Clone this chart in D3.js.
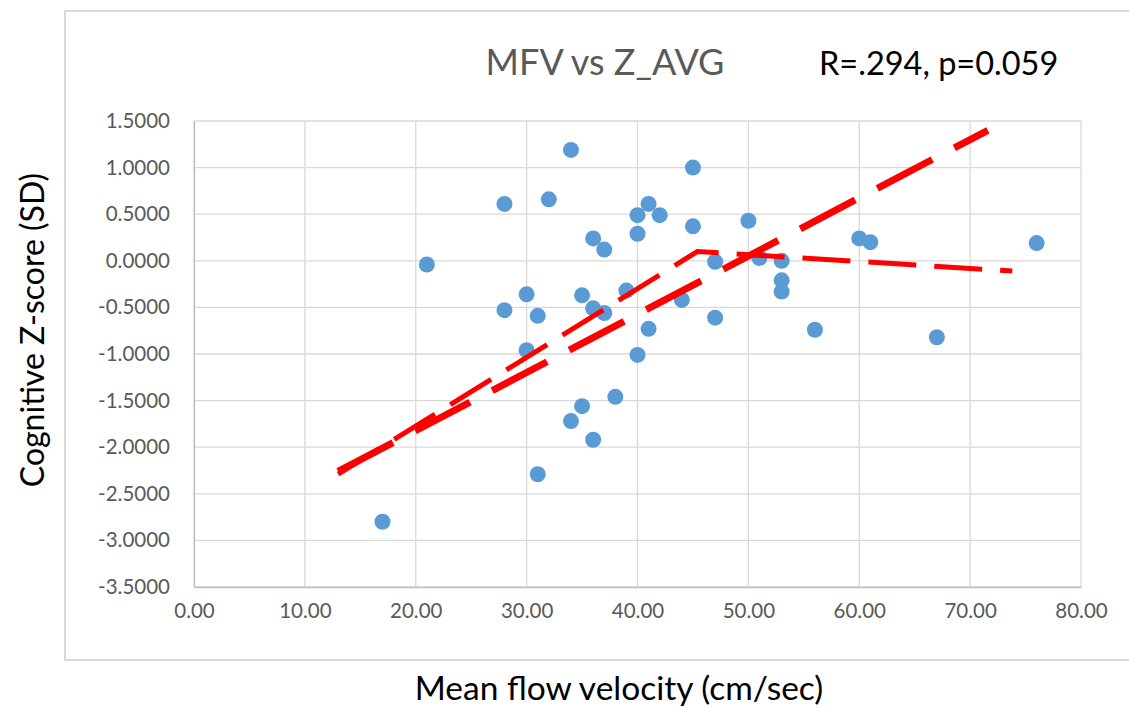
<!DOCTYPE html>
<html>
<head>
<meta charset="utf-8">
<script src="https://cdn.jsdelivr.net/npm/d3@7"></script>
<style>
  html, body { margin: 0; padding: 0; background: #fff; }
  svg { display: block; }
  text { font-family: Lato, "Open Sans", sans-serif; }
</style>
</head>
<body>
<svg id="chart" width="1129" height="708"></svg>
<script>
// Mean flow velocity (cm/sec) per subject
const mfv = [17, 21, 28, 28, 30, 30, 31, 31, 32, 34, 34, 35, 35, 36, 36, 36, 37, 37, 38, 39,
             40, 40, 40, 41, 41, 42, 44, 45, 45, 47, 47, 50, 51, 53, 53, 53, 56, 60, 61, 67, 76];
// Average cognitive z-score (SD) per subject
const zAvg = [-2.80, -0.04, 0.61, -0.53, -0.36, -0.96, -0.59, -2.29, 0.66, 1.19, -1.72, -0.37, -1.56,
              0.24, -0.51, -1.92, 0.12, -0.56, -1.46, -0.32, 0.49, 0.29, -1.01, 0.61, -0.73, 0.49,
              -0.42, 1.00, 0.37, -0.01, -0.61, 0.43, 0.03, 0.00, -0.21, -0.33, -0.74, 0.24, 0.20,
              -0.82, 0.19];

// Fitted trend lines: linear fit and two-segment (breakpoint) fit
const linearFitX = [13, 71.6];
const linearFitY = [-2.26, 1.40];
const segmentFitX = [13, 45.4, 73.8];
const segmentFitY = [-2.29, 0.10, -0.11];

const xTicks = [0, 10, 20, 30, 40, 50, 60, 70, 80];
const yTicks = [1.5, 1.0, 0.5, 0.0, -0.5, -1.0, -1.5, -2.0, -2.5, -3.0, -3.5];

const svg = d3.select("#chart");

const plot = { left: 194, right: 1081, top: 121, bottom: 587 };

const x = d3.scaleLinear().domain([0, 80]).range([plot.left, plot.right]);
const y = d3.scaleLinear().domain([-3.5, 1.5]).range([plot.bottom, plot.top]);

// Outer chart frame
svg.append("rect")
  .attr("x", 65).attr("y", 11)
  .attr("width", 1100).attr("height", 649)
  .attr("fill", "none")
  .attr("stroke", "#d9d9d9")
  .attr("stroke-width", 2);

// Gridlines
const grid = svg.append("g").attr("class", "grid");
grid.selectAll("line.v").data(xTicks).join("line")
  .attr("class", "v")
  .attr("x1", d => x(d)).attr("x2", d => x(d))
  .attr("y1", plot.top).attr("y2", plot.bottom)
  .attr("stroke", "#d9d9d9").attr("stroke-width", 1.3);
grid.selectAll("line.h").data(yTicks).join("line")
  .attr("class", "h")
  .attr("x1", plot.left).attr("x2", plot.right)
  .attr("y1", d => y(d)).attr("y2", d => y(d))
  .attr("stroke", "#d9d9d9").attr("stroke-width", 1.3);

// Axes (labels use a plain hyphen for negatives)
const fmt = (p) => (d) => d3.format(`.${p}f`)(d).replace("\u2212", "-");
const xAxis = d3.axisBottom(x).tickValues(xTicks).tickFormat(fmt(2)).tickSize(0).tickPadding(24);
const yAxis = d3.axisLeft(y).tickValues(yTicks).tickFormat(fmt(4)).tickSize(0).tickPadding(24);

const gx = svg.append("g").attr("transform", `translate(0,${plot.bottom})`).call(xAxis);
const gy = svg.append("g").attr("transform", `translate(${plot.left},0)`).call(yAxis);

[gx, gy].forEach(g => {
  g.select(".domain").attr("stroke", "#bfbfbf").attr("stroke-width", 1.3);
  g.selectAll(".tick text")
    .attr("fill", "#595959")
    .style("font-family", "Lato, sans-serif")
    .style("font-size", "20.5px");
});
gx.selectAll(".tick text").attr("dy", "0.35em");

// Scatter points
svg.append("g").selectAll("circle")
  .data(mfv.map((v, i) => ({ x: v, y: zAvg[i] })))
  .join("circle")
  .attr("cx", d => x(d.x))
  .attr("cy", d => y(d.y))
  .attr("r", 8)
  .attr("fill", "#5b9bd5");

// Trend lines
const line = d3.line().x(d => x(d[0])).y(d => y(d[1]));

svg.append("path")
  .datum(segmentFitX.map((v, i) => [v, segmentFitY[i]]))
  .attr("d", line)
  .attr("fill", "none")
  .attr("stroke", "#ff0000")
  .attr("stroke-width", 5)
  .attr("stroke-dasharray", "48 18");

svg.append("path")
  .datum(linearFitX.map((v, i) => [v, linearFitY[i]]))
  .attr("d", line)
  .attr("fill", "none")
  .attr("stroke", "#ff0000")
  .attr("stroke-width", 7)
  .attr("stroke-dasharray", "62 25");

// Titles
svg.append("text")
  .attr("x", 605).attr("y", 75)
  .attr("text-anchor", "middle")
  .attr("fill", "#595959")
  .style("font-size", "36px")
  .text("MFV vs Z_AVG");

svg.append("text")
  .attr("x", 819).attr("y", 75)
  .attr("fill", "#000")
  .style("font-size", "32.5px")
  .text("R=.294, p=0.059");

svg.append("text")
  .attr("transform", "translate(44,330) rotate(-90)")
  .attr("text-anchor", "middle")
  .attr("fill", "#000")
  .style("font-size", "32px")
  .text("Cognitive Z-score (SD)");

svg.append("text")
  .attr("x", 619).attr("y", 700)
  .attr("text-anchor", "middle")
  .attr("fill", "#000")
  .style("font-size", "33.5px")
  .text("Mean flow velocity (cm/sec)");
</script>
</body>
</html>
